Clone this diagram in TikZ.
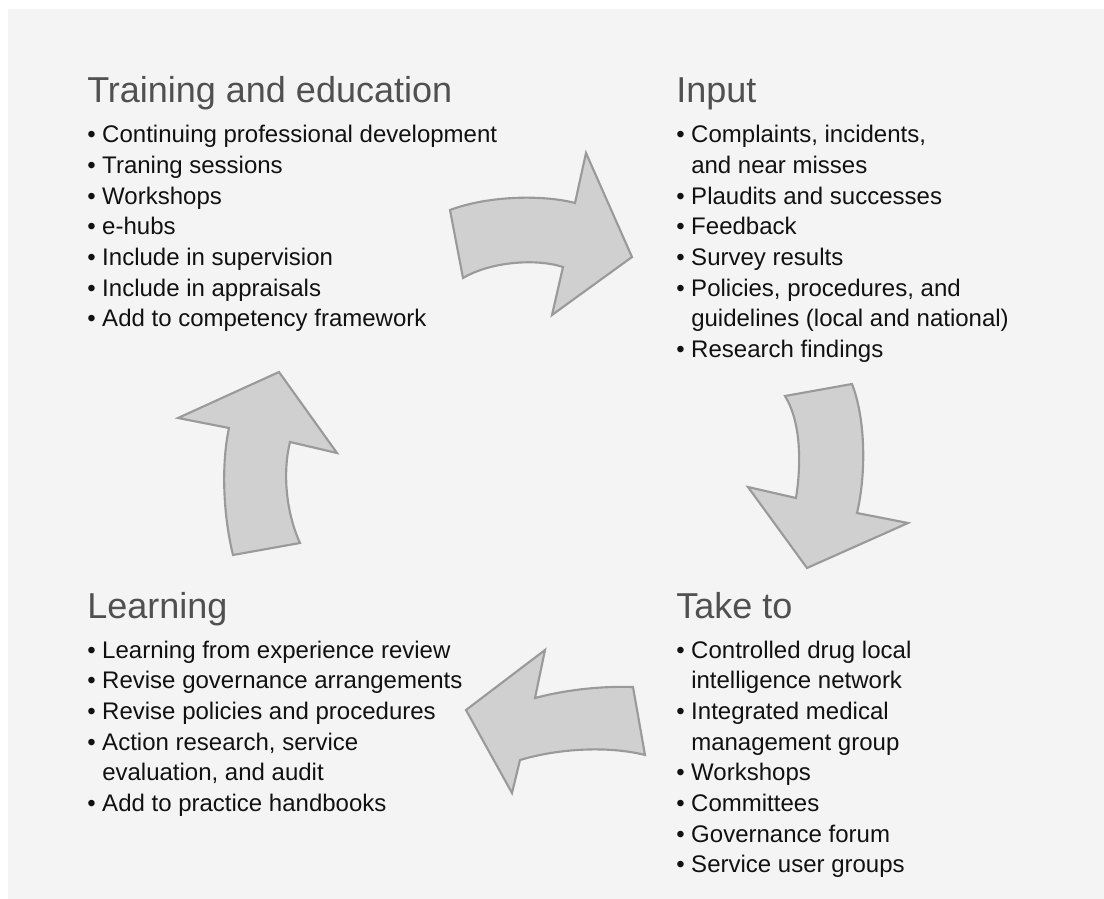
\documentclass[tikz,border=0pt]{standalone}
\usepackage{fontspec}
\setmainfont{Liberation Sans}
\definecolor{bgc}{HTML}{F4F4F4}
\definecolor{titc}{HTML}{505050}
\definecolor{txtc}{HTML}{111111}
\definecolor{arrf}{HTML}{D0D0D0}
\definecolor{arrd}{HTML}{9A9A9A}
\newcommand\bul{\makebox[11.25pt][l]{•}}
\tikzset{
  ttl/.style={anchor=base west, inner sep=0pt, text=titc, font=\fontsize{27}{27}\selectfont},
  itm/.style={anchor=base west, inner sep=0pt, text=txtc, font=\fontsize{18}{18}\selectfont},
  bigarrow/.style={fill=arrf, draw=arrd, line width=1.6pt, line join=miter}
}
\begin{document}
\begin{tikzpicture}[x=0.75pt,y=-0.75pt]
\useasboundingbox (0,0) rectangle (1104,899);
\fill[white] (0,0) rectangle (1104,899);
\fill[bgc] (8,9) rectangle (1104,899);

% arrows
\draw[bigarrow] (450,210) .. controls (490,195) and (545,195) .. (575,203)
  -- (586,153) -- (632,257) -- (552,315) -- (563,267)
  .. controls (535,258) and (490,262) .. (463,278) -- cycle;
\draw[bigarrow] (785,396) -- (852,384) .. controls (866,420) and (866,475) .. (857,513)
  -- (908,523) -- (807,568) -- (748,487) -- (796,498)
  .. controls (802,460) and (800,420) .. cycle;
\draw[bigarrow] (633,687) .. controls (600,686) and (565,690) .. (535,698)
  -- (545,650) -- (466,710) -- (512,793) -- (520,760)
  .. controls (560,748) and (610,746) .. (645,755) -- cycle;
\draw[bigarrow] (233,555) -- (300,543) .. controls (285,510) and (283,470) .. (290,442)
  -- (337,453) -- (279,372) -- (178,418) -- (229,428)
  .. controls (222,460) and (222,510) .. cycle;

% Training and education
\node[ttl] (trT) at (87,103) {Training and education};
\node[itm] (tr1) at (87,142.7) {\bul Continuing professional development};
\node[itm] (tr2) at (87,173.4) {\bul Traning sessions};
\node[itm] (tr3) at (87,204.1) {\bul Workshops};
\node[itm] (tr4) at (87,234.8) {\bul e-hubs};
\node[itm] (tr5) at (87,265.5) {\bul Include in supervision};
\node[itm] (tr6) at (87,296.2) {\bul Include in appraisals};
\node[itm] (tr7) at (87,326.9) {\bul Add to competency framework};

% Input
\node[ttl] (inT) at (676,103) {Input};
\node[itm] (in1) at (676,142.7) {\bul Complaints, incidents,};
\node[itm] (in2) at (691,173.4) {and near misses};
\node[itm] (in3) at (676,204.1) {\bul Plaudits and successes};
\node[itm] (in4) at (676,234.8) {\bul Feedback};
\node[itm] (in5) at (676,265.5) {\bul Survey results};
\node[itm] (in6) at (676,296.2) {\bul Policies, procedures, and};
\node[itm] (in7) at (691,326.9) {guidelines (local and national)};
\node[itm] (in8) at (676,357.6) {\bul Research findings};

% Take to
\node[ttl] (tkT) at (676,618) {Take to};
\node[itm] (tk1) at (676,658) {\bul Controlled drug local};
\node[itm] (tk2) at (691,688.7) {intelligence network};
\node[itm] (tk3) at (676,719.4) {\bul Integrated medical};
\node[itm] (tk4) at (691,750.1) {management group};
\node[itm] (tk5) at (676,780.8) {\bul Workshops};
\node[itm] (tk6) at (676,811.5) {\bul Committees};
\node[itm] (tk7) at (676,842.2) {\bul Governance forum};
\node[itm] (tk8) at (676,872.9) {\bul Service user groups};

% Learning
\node[ttl] (lnT) at (87,618) {Learning};
\node[itm] (ln1) at (87,658) {\bul Learning from experience review};
\node[itm] (ln2) at (87,688.7) {\bul Revise governance arrangements};
\node[itm] (ln3) at (87,719.4) {\bul Revise policies and procedures};
\node[itm] (ln4) at (87,750.1) {\bul Action research, service};
\node[itm] (ln5) at (102,780.8) {evaluation, and audit};
\node[itm] (ln6) at (87,811.5) {\bul Add to practice handbooks};
\end{tikzpicture}
\end{document}
